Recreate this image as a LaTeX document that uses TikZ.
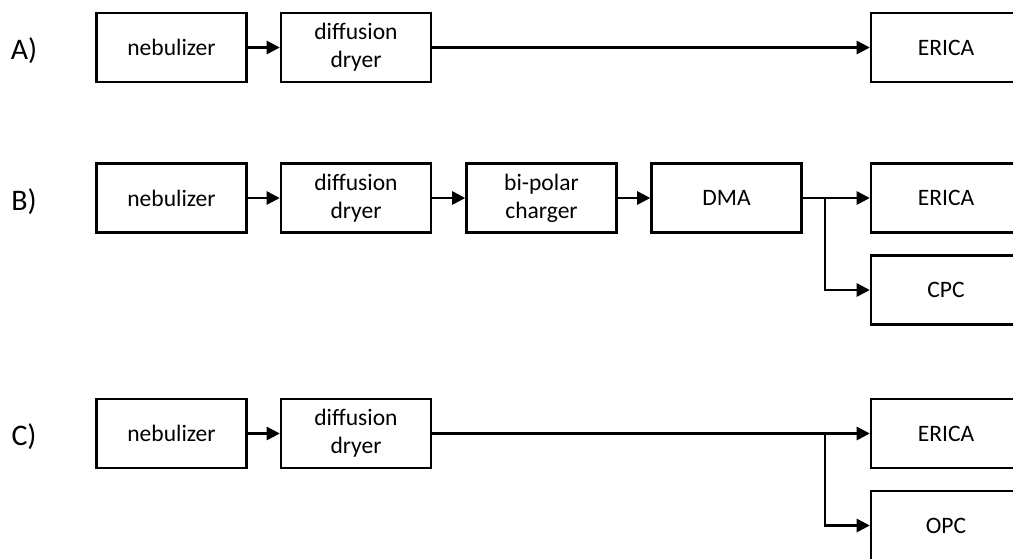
\documentclass[tikz,border=0pt]{standalone}
\usepackage{fontspec}
\setmainfont{Carlito}
\usetikzlibrary{arrows.meta,positioning}

\begin{document}
\begin{tikzpicture}[
    x=0.02cm, y=-0.02cm,
    box/.style={draw, line width=1.4pt, minimum width=3cm, minimum height=1.38cm,
                align=center, font=\fontsize{13.4}{16}\selectfont},
    rowlabel/.style={font=\fontsize{17}{19}\selectfont},
    flow/.style={line width=1.4pt, -{Triangle[length=7.5pt,width=7.5pt]}}
]
\clip (0,0) rectangle (1013,558);

% Row A
\node[rowlabel] (la) at (24,51) {A)};
\node[box] (nebA) at (171.5,47.5) {nebulizer};
\node[box] (dryA) at (356,47.5) {diffusion\\dryer};
\node[box] (ericaA) at (946,47.5) {ERICA};
\draw[flow] (nebA) -- (dryA);
\draw[flow] (dryA) -- (ericaA);

% Row B
\node[rowlabel] (lb) at (24,202) {B)};
\node[box] (nebB) at (171.5,198) {nebulizer};
\node[box] (dryB) at (356,198) {diffusion\\dryer};
\node[box] (chgB) at (541.5,198) {bi-polar\\charger};
\node[box] (dmaB) at (726.5,198) {DMA};
\node[box] (ericaB) at (946,198) {ERICA};
\node[box] (cpcB) at (946,290) {CPC};
\coordinate (splitB) at (825,198);
\draw[flow] (nebB) -- (dryB);
\draw[flow] (dryB) -- (chgB);
\draw[flow] (chgB) -- (dmaB);
\draw[flow] (dmaB) -- (ericaB);
\draw[flow] (splitB) |- (cpcB);

% Row C
\node[rowlabel] (lc) at (24,437) {C)};
\node[box] (nebC) at (171.5,433.5) {nebulizer};
\node[box] (dryC) at (356,433.5) {diffusion\\dryer};
\node[box] (ericaC) at (946,433.5) {ERICA};
\node[box] (opcC) at (946,525.5) {OPC};
\coordinate (splitC) at (825,433.5);
\draw[flow] (nebC) -- (dryC);
\draw[flow] (dryC) -- (ericaC);
\draw[flow] (splitC) |- (opcC);

\end{tikzpicture}
\end{document}
